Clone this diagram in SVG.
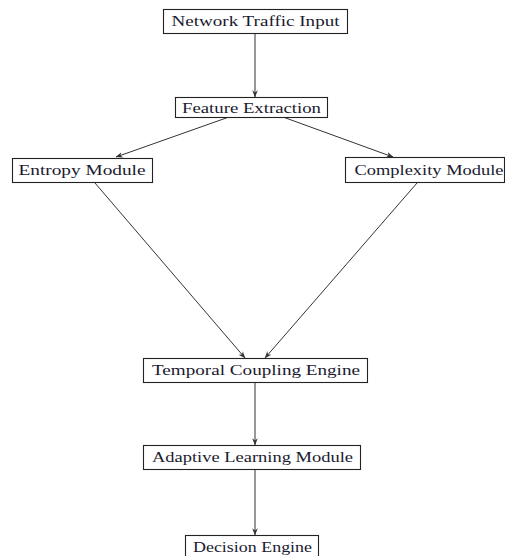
<svg xmlns="http://www.w3.org/2000/svg" width="505" height="556" viewBox="0 0 505 556">
<style>
.box{fill:#fff;stroke:#222;stroke-width:1.1}
.lbl{font-family:"Liberation Serif","DejaVu Serif",serif;font-size:15px;fill:#1a1a2e;text-anchor:middle}
.edge{stroke:#333;stroke-width:1;fill:none;marker-end:url(#ah)}
</style>
<defs>
<marker id="ah" viewBox="0 0 10 10" refX="9.5" refY="5" markerWidth="7" markerHeight="7" markerUnits="userSpaceOnUse" orient="auto">
<path d="M0,1 L10,5 L0,9 L3,5 Z" fill="#333"/>
</marker>
</defs>
<rect width="505" height="556" fill="#fff"/>
<g id="connectors">
<line class="edge" x1="255" y1="34" x2="255" y2="97"/>
<line class="edge" x1="229" y1="117" x2="116" y2="157"/>
<line class="edge" x1="283" y1="117" x2="393" y2="157"/>
<line class="edge" x1="95" y1="183" x2="245" y2="358"/>
<line class="edge" x1="417" y1="183" x2="265" y2="358"/>
<line class="edge" x1="255" y1="383" x2="255" y2="445"/>
<line class="edge" x1="255" y1="470" x2="255" y2="535"/>
</g>
<g id="n1"><rect class="box" x="163.5" y="9.5" width="184" height="24"/><text class="lbl" x="255.5" y="26" textLength="168" lengthAdjust="spacingAndGlyphs">Network Traffic Input</text></g>
<g id="n2"><rect class="box" x="175.5" y="97.5" width="152" height="20"/><text class="lbl" x="251.5" y="112.5" textLength="139" lengthAdjust="spacingAndGlyphs">Feature Extraction</text></g>
<g id="n3"><rect class="box" x="12.5" y="158.5" width="140" height="24"/><text class="lbl" x="82" y="175" textLength="127" lengthAdjust="spacingAndGlyphs">Entropy Module</text></g>
<g id="n4"><rect class="box" x="345.5" y="157.5" width="159" height="25"/><text class="lbl" x="429" y="175" textLength="149" lengthAdjust="spacingAndGlyphs">Complexity Module</text></g>
<g id="n5"><rect class="box" x="143.5" y="358.5" width="224" height="24"/><text class="lbl" x="256" y="375" textLength="208" lengthAdjust="spacingAndGlyphs">Temporal Coupling Engine</text></g>
<g id="n6"><rect class="box" x="143.5" y="445.5" width="217" height="24"/><text class="lbl" x="252.5" y="462" textLength="201" lengthAdjust="spacingAndGlyphs">Adaptive Learning Module</text></g>
<g id="n7"><rect class="box" x="185.5" y="535.5" width="133" height="24"/><text class="lbl" x="252.5" y="552" textLength="119" lengthAdjust="spacingAndGlyphs">Decision Engine</text></g>
</svg>
